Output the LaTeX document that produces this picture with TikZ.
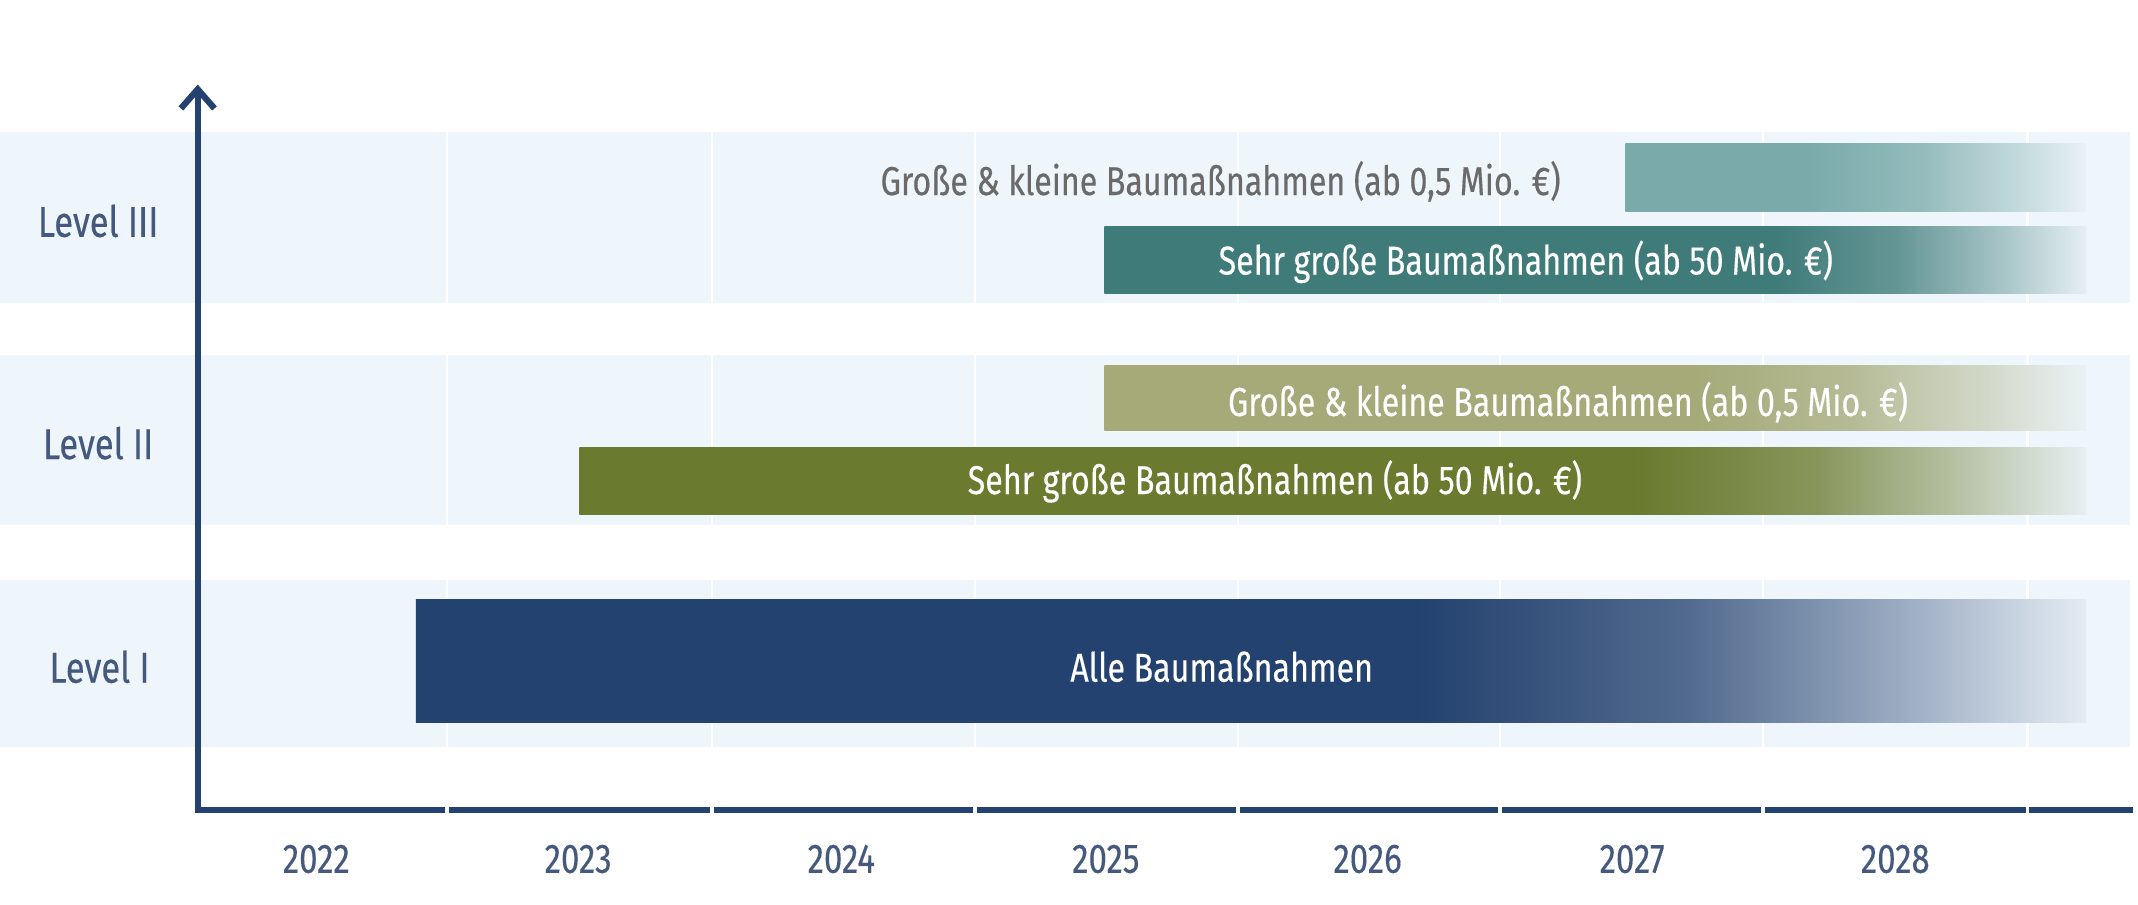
\documentclass[tikz,border=0pt]{standalone}
\usepackage{fontspec}
\setmainfont{Fira Sans}[FakeStretch=0.8, FakeBold=0.3]
\usetikzlibrary{arrows.meta}
\definecolor{bandblue}{HTML}{EEF5FB}
\definecolor{navy}{HTML}{24426F}
\definecolor{labelblue}{HTML}{44597D}
\definecolor{tealdark}{HTML}{3E7B79}
\definecolor{teallight}{HTML}{7AABAA}
\definecolor{olivedark}{HTML}{6A7A2E}
\definecolor{olivelight}{HTML}{A5AA78}
\definecolor{textgray}{HTML}{6A6A6A}
% shading for a bar that runs out to the right: name, colour, start of fade (bp, 25..75)
\newcommand{\barshading}[3]{%
  \pgfmathsetmacro\fadeA{#3}%
  \pgfmathsetmacro\fadeB{#3+0.4*(75-#3)}%
  \pgfmathsetmacro\fadeC{#3+0.75*(75-#3)}%
  \edef\next{\noexpand\pgfdeclarehorizontalshading{#1}{100bp}{%
    color(0bp)=(#2); color(\fadeA bp)=(#2);
    color(\fadeB bp)=(#2!78!bandblue); color(\fadeC bp)=(#2!38!bandblue);
    color(75bp)=(#2!5!bandblue); color(100bp)=(#2!5!bandblue)}}%
  \next}
\barshading{fadeTealLight}{teallight}{45}
\barshading{fadeTealDark}{tealdark}{59}
\barshading{fadeOliveLight}{olivelight}{55}
\barshading{fadeOliveDark}{olivedark}{60}
\barshading{fadeNavy}{navy}{55}
\tikzset{
  band/.style={fill=bandblue},
  barlabel/.style={text=white, font=\fontsize{8.4}{10}\selectfont},
  levellabel/.style={text=labelblue, font=\fontsize{9}{10}\selectfont},
  yearlabel/.style={text=labelblue, font=\fontsize{8.6}{10}\selectfont},
  axisline/.style={draw=navy, line width=1.3pt}
}
\begin{document}
\begin{tikzpicture}[x=0.01cm,y=-0.01cm]
	\useasboundingbox (0,0) rectangle (1568,663);

	% level bands
	\fill[band] (0,97) rectangle (1562,222);
	\fill[band] (0,260) rectangle (1562,385);
	\fill[band] (0,425) rectangle (1562,548);
	\foreach \x in {328,522,715,908,1100,1293,1487}{
		\draw[white, line width=0.5pt] (\x,97) -- (\x,222);
		\draw[white, line width=0.5pt] (\x,260) -- (\x,385);
		\draw[white, line width=0.5pt] (\x,425) -- (\x,548);
	}

	% bars
	\shade[shading=fadeTealLight] (1192,105) rectangle (1530,155);
	\shade[shading=fadeTealDark] (810,166) rectangle (1530,215);
	\shade[shading=fadeOliveLight] (810,268) rectangle (1530,316);
	\shade[shading=fadeOliveDark] (425,328) rectangle (1530,377);
	\shade[shading=fadeNavy] (305,440) rectangle (1530,530);

	\node[text=textgray, font=\fontsize{8.4}{10}\selectfont, anchor=east] (l3small) at (1157,133) {Große \& kleine Baumaßnahmen (ab 0,5 Mio. €)};
	\node[barlabel] (l3big) at (1119,192) {Sehr große Baumaßnahmen (ab 50 Mio. €)};
	\node[barlabel] (l2small) at (1150,295) {Große \& kleine Baumaßnahmen (ab 0,5 Mio. €)};
	\node[barlabel] (l2big) at (935,353) {Sehr große Baumaßnahmen (ab 50 Mio. €)};
	\node[barlabel] (l1all) at (896,489) {Alle Baumaßnahmen};

	% level names
	\node[levellabel] (lvl3) at (72,162) {Level III};
	\node[levellabel] (lvl2) at (72,325) {Level II};
	\node[levellabel] (lvl1) at (73,489) {Level I};

	% axes
	\coordinate (origin) at (145,594);
	\coordinate (ytop) at (145,62);
	\coordinate (xend) at (1562,594);
	\draw[axisline, line cap=rect] (xend) -- (origin);
	\draw[axisline, -{Straight Barb[length=4pt, width=7pt, line width=1.3pt]}] (origin) -- (ytop);
	\foreach \x in {328,522,715,908,1100,1293,1487}
		\draw[white, line width=0.8pt] (\x,588) -- (\x,600);

	% years
	\foreach \yr/\x in {2022/232,2023/424,2024/617,2025/811,2026/1003,2027/1197,2028/1390}
		\node[yearlabel] (y\yr) at (\x,630) {\yr};
\end{tikzpicture}
\end{document}
